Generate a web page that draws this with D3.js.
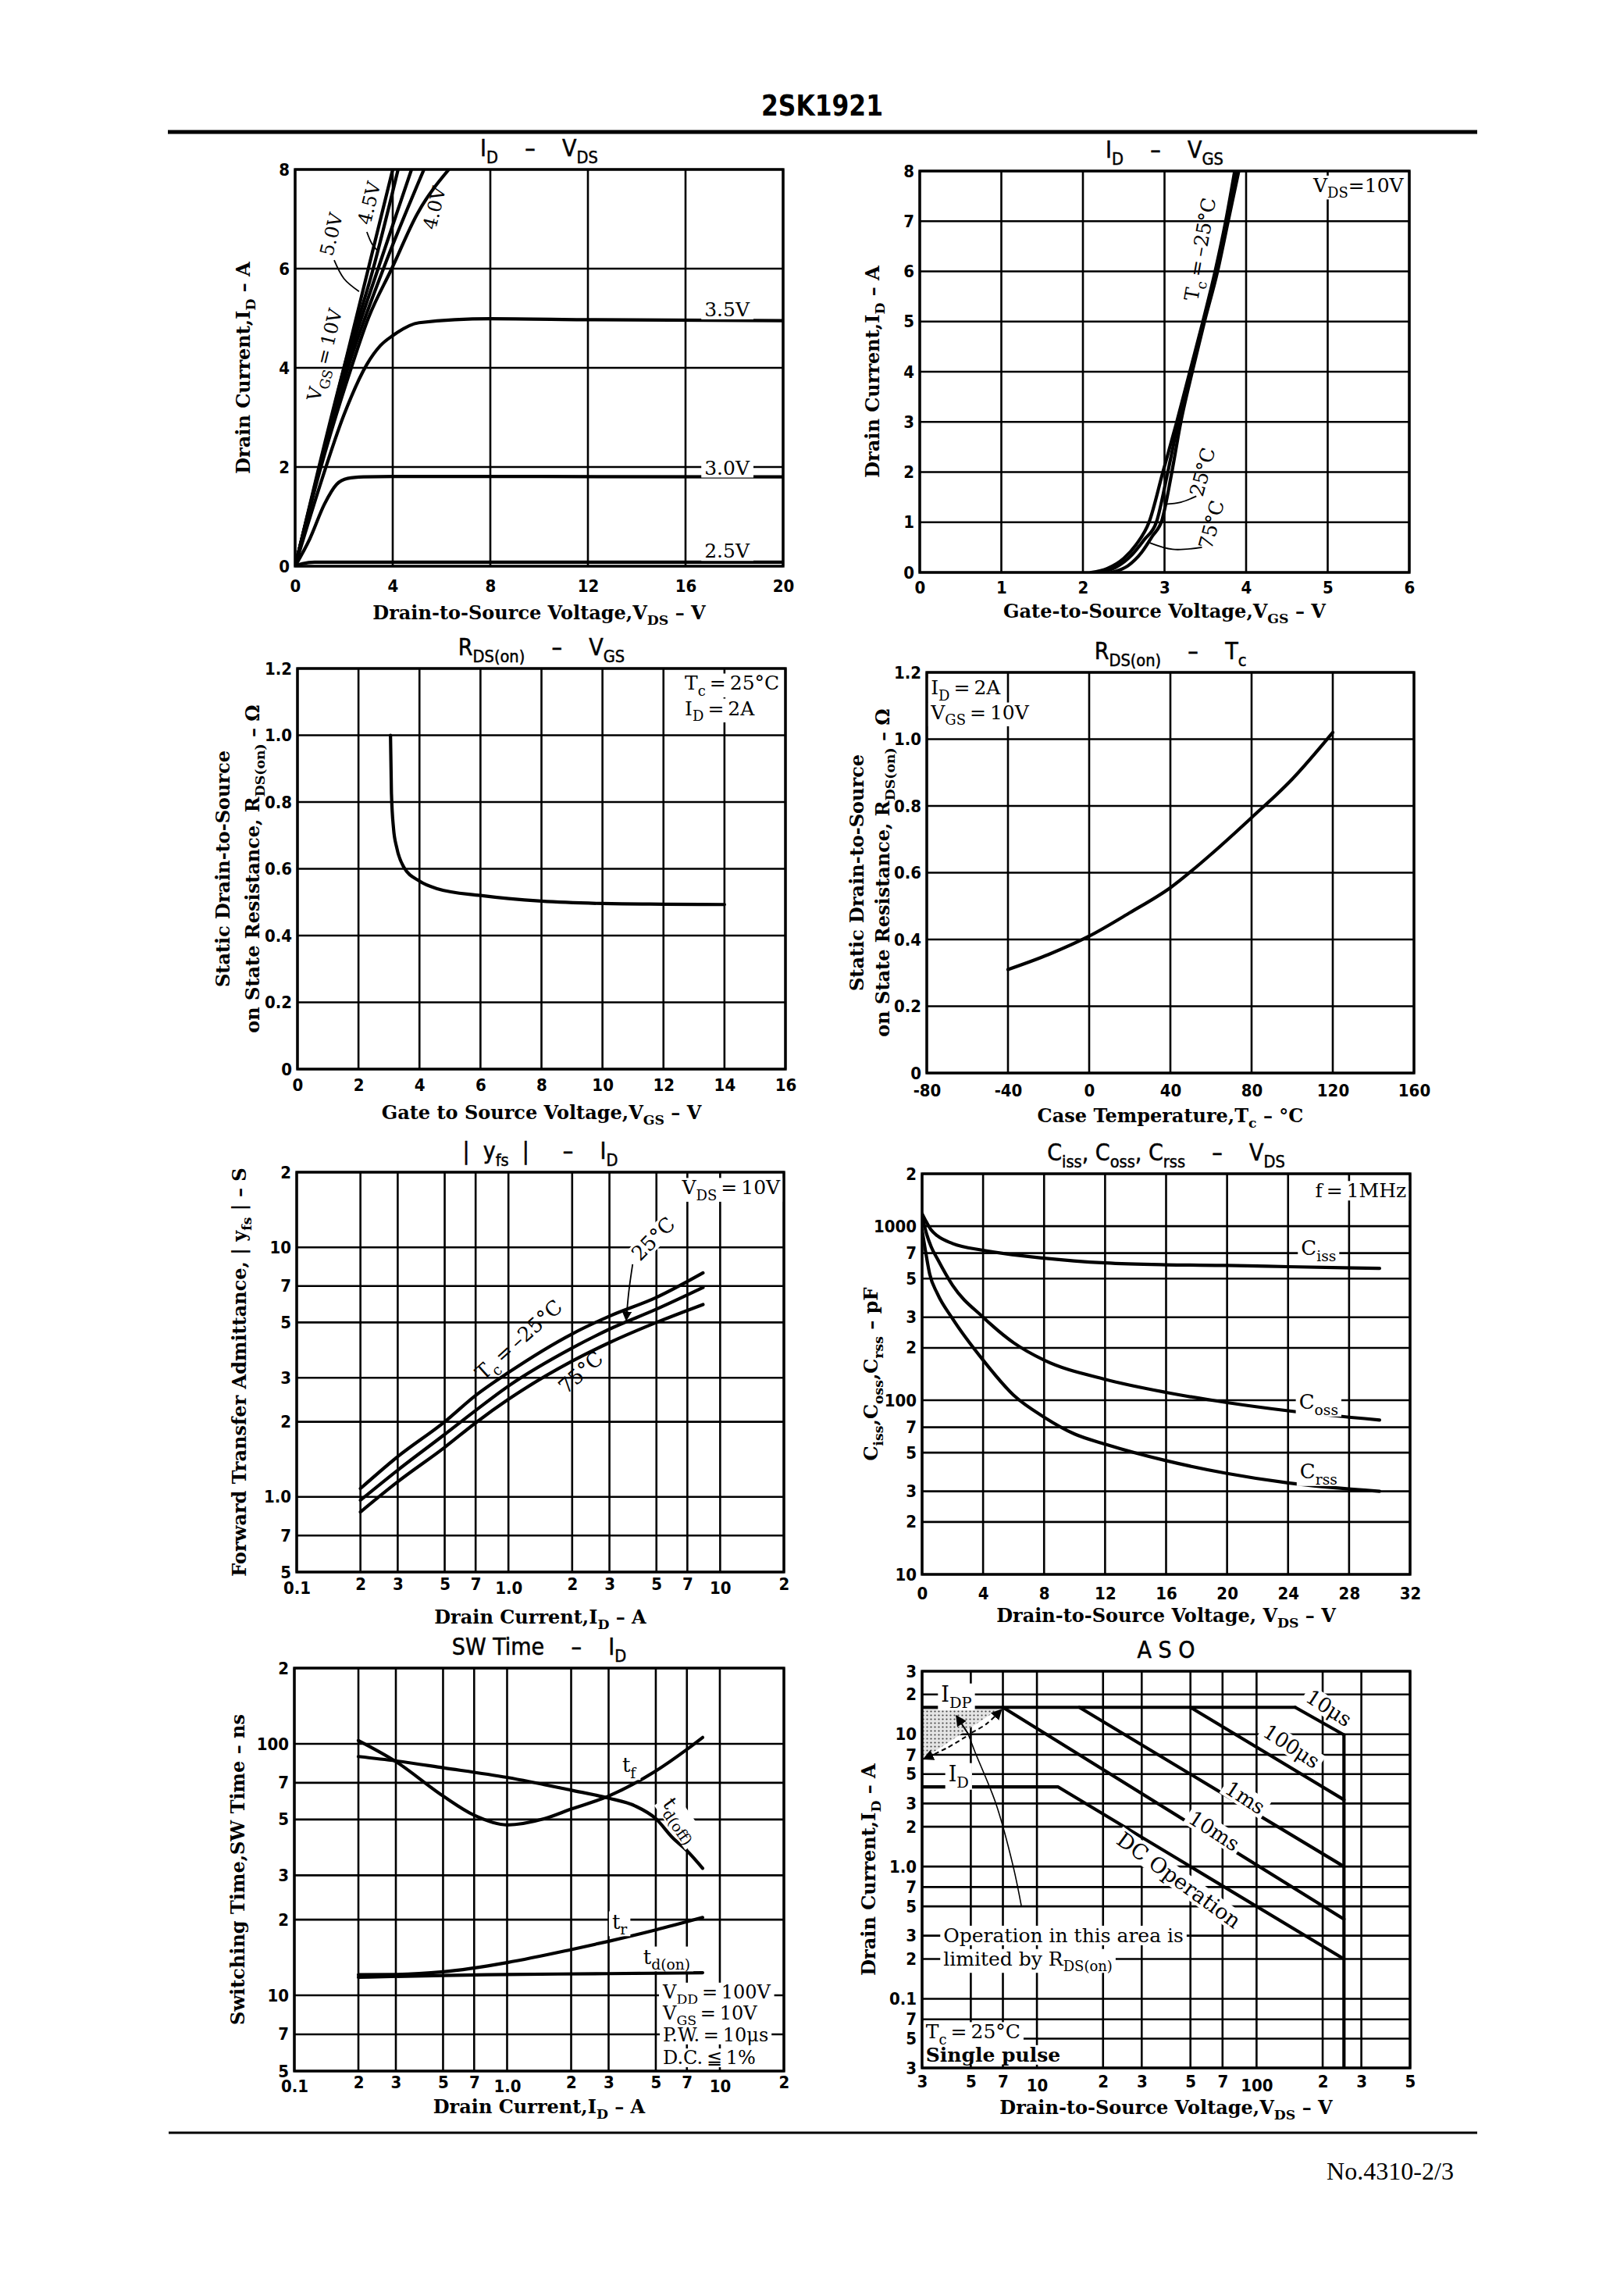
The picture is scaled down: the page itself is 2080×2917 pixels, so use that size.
<!DOCTYPE html>
<html><head><meta charset="utf-8"><title>2SK1921</title>
<script src="https://cdn.jsdelivr.net/npm/d3@7/dist/d3.min.js"></script>
<style>html,body{margin:0;padding:0;background:#fff}svg text{white-space:pre}</style>
</head><body>
<script>
// ================= DATA =================
// Chart 1: ID - VDS  (pairs: [VDS (V), ID (A)])
const idvds_vgs10 = [[0,0],[2,4],[4.0,8]];
const idvds_vgs6  = [[0,0],[1,2.05],[2.0,4],[3.2,6],[4.22,8]];
const idvds_vgs5  = [[0,0],[1,2.0],[2.08,4],[3.4,6],[4.77,8]];
const idvds_vgs45 = [[0,0],[1,1.95],[2.17,4],[3.62,6],[5.28,8]];
const idvds_vgs4  = [[0,0],[1,1.9],[2.3,4],[3,5.0],[3.96,6],[5,7.1],[6.3,8]];
const idvds_vgs35 = [[0,0],[1,1.6],[2,3.05],[2.94,4.07],[3.5,4.45],[4,4.65],[5.08,4.91],[8,4.99],[12,4.97],[20,4.95]];
const idvds_vgs30 = [[0,0],[0.6,0.55],[1.2,1.25],[1.7,1.65],[2.15,1.77],[2.8,1.8],[4,1.81],[20,1.8]];
const idvds_vgs25 = [[0,0],[0.3,0.05],[0.8,0.08],[20,0.08]];
const idvdsXTicks = [0,4,8,12,16,20];
const idvdsYTicks = [0,2,4,6,8];

// Chart 2: ID - VGS  ([VGS (V), ID (A)])
const idvgs_m25 = [[2.1,0],[2.3,0.08],[2.5,0.28],[2.65,0.55],[2.81,1.0],[2.98,2.0],[3.15,3.0],[3.31,4.0],[3.47,5.0],[3.62,6.0],[3.75,7.0],[3.86,8.0]];
const idvgs_p25 = [[2.2,0],[2.4,0.1],[2.6,0.35],[2.75,0.65],[2.9,1.0],[3.04,2.0],[3.17,3.0],[3.32,4.0],[3.48,5.0],[3.63,6.0],[3.76,7.0],[3.88,8.0]];
const idvgs_p75 = [[2.35,0],[2.55,0.13],[2.72,0.4],[2.85,0.72],[2.97,1.05],[3.09,2.0],[3.2,3.0],[3.34,4.0],[3.49,5.0],[3.65,6.0],[3.78,7.0],[3.91,8.0]];
const idvgsXTicks = [0,1,2,3,4,5,6];
const idvgsYTicks = [0,1,2,3,4,5,6,7,8];

// Chart 3: RDS(on) - VGS ([VGS (V), RDS (ohm)])
const rdsVgs = [[3.05,1.0],[3.08,0.83],[3.15,0.72],[3.25,0.665],[3.48,0.606],[4,0.563],[4.6,0.54],[6,0.52],[8,0.503],[10,0.496],[12,0.494],[14,0.493]];
const rdsVgsXTicks = [0,2,4,6,8,10,12,14,16];
const rdsYTicks = [0,0.2,0.4,0.6,0.8,1.0,1.2];
const rdsYLabels = ['0','0.2','0.4','0.6','0.8','1.0','1.2'];

// Chart 4: RDS(on) - Tc ([Tc (degC), RDS (ohm)])
const rdsTc = [[-40,0.31],[-20,0.355],[0,0.41],[20,0.48],[40,0.555],[60,0.655],[80,0.765],[100,0.88],[120,1.02]];
const rdsTcXTicks = [-80,-40,0,40,80,120,160];

// Chart 5: |yfs| - ID ([ID (A), |yfs| (S)])
const yfs_m25 = [[0.2,1.08],[0.3,1.45],[0.5,2.0],[0.7,2.55],[1.0,3.15],[2,4.5],[3,5.3],[5,6.3],[8.3,7.9]];
const yfs_p25 = [[0.2,0.97],[0.3,1.28],[0.5,1.78],[0.7,2.22],[1.0,2.78],[2,3.95],[3,4.7],[5,5.65],[8.3,6.9]];
const yfs_p75 = [[0.2,0.87],[0.3,1.15],[0.5,1.58],[0.7,1.98],[1.0,2.46],[2,3.5],[3,4.15],[5,5.0],[8.3,5.9]];
const logIdTicks  = [0.1,0.2,0.3,0.5,0.7,1,2,3,5,7,10,20];
const logIdLabels = ['0.1','2','3','5','7','1.0','2','3','5','7','10','2'];
const yfsYTicks  = [0.5,0.7,1,2,3,5,7,10,20];
const yfsYLabels = ['5','7','1.0','2','3','5','7','10','2'];

// Chart 6: Ciss, Coss, Crss - VDS ([VDS (V), C (pF)])
const ciss = [[0,1180],[0.3,1050],[0.6,950],[1,880],[2,795],[4,727],[8,655],[12,615],[16,600],[20,595],[24,585],[30,572]];
const coss = [[0,1150],[0.3,900],[0.6,760],[1,650],[2,457],[4,300],[6,214],[8,170],[12,132],[16,111],[20,97],[24,87],[30,77]];
const crss = [[0,950],[0.2,740],[0.5,530],[1,410],[2,294],[4,170],[6,107],[8,80],[10,64],[12,56],[16,45],[20,38],[24,33.5],[30,30]];
const capXTicks = [0,4,8,12,16,20,24,28,32];
const capYTicks  = [10,20,30,50,70,100,200,300,500,700,1000,2000];
const capYLabels = ['10','2','3','5','7','100','2','3','5','7','1000','2'];

// Chart 7: SW Time - ID ([ID (A), t (ns)])
const sw_tf    = [[0.2,103],[0.3,85],[0.5,62],[0.7,52],[1,47.6],[1.5,50.4],[2,55],[3,62],[5,78],[7,95],[8.3,106]];
const sw_tdoff = [[0.2,89],[0.3,85.5],[0.5,80.3],[1,73.5],[2,65.4],[3,60.8],[4,56.6],[5,50.4],[6,42.3],[7,37.6],[8.3,32]];
const sw_tr    = [[0.2,12.07],[0.3,12.1],[0.5,12.4],[1,13.5],[2,15.2],[3,16.4],[5,18.2],[8.3,20.4]];
const sw_tdon  = [[0.2,11.8],[0.5,12.0],[1,12.1],[3,12.2],[8.3,12.3]];
const swYTicks  = [5,7,10,20,30,50,70,100,200];
const swYLabels = ['5','7','10','2','3','5','7','100','2'];

// Chart 8: ASO ([VDS (V), ID (A)])
const aso_idp   = [[3,16],[150,16]];
const aso_10us  = [[150,16],[250,9.9]];
const aso_vdss  = [[250,9.9],[250,0.03]];
const aso_100us = [[50,16],[250,3.2]];
const aso_1ms   = [[15.6,16],[250,1.0]];
const aso_10ms  = [[7,16],[250,0.4]];
const aso_dc    = [[3,4],[12.5,4],[250,0.2]];
const aso_shade = [[3,16],[6.9,16],[3,6.4]];
const asoXTicks  = [3,5,7,10,20,30,50,70,100,200,300,500];
const asoXLabels = ['3','5','7','10','2','3','5','7','100','2','3','5'];
const asoYTicks  = [0.03,0.05,0.07,0.1,0.2,0.3,0.5,0.7,1,2,3,5,7,10,20,30];
const asoYLabels = ['3','5','7','0.1','2','3','5','7','1.0','2','3','5','7','10','2','3'];

// ================= DRAWING =================
const SANSN = "'Liberation Sans Narrow','DejaVu Sans Condensed','Arial Narrow',sans-serif";
const SERIF = "'DejaVu Serif','Liberation Serif',serif";
const TS = '\u2009';

const svg = d3.select('body').append('svg').attr('width',2080).attr('height',2917).style('display','block');
svg.append('rect').attr('width',2080).attr('height',2917).attr('fill','#fff');
const defs = svg.append('defs');
const pat = defs.append('pattern').attr('id','stip').attr('width',5).attr('height',5).attr('patternUnits','userSpaceOnUse');
pat.append('rect').attr('width',5).attr('height',5).attr('fill','#e4e4e4');
pat.append('circle').attr('cx',1.5).attr('cy',1.5).attr('r',1.1).attr('fill','#444');
defs.append('marker').attr('id','arr').attr('viewBox','0 0 10 10').attr('refX',9).attr('refY',5)
  .attr('markerWidth',7).attr('markerHeight',7).attr('orient','auto-start-reverse')
  .append('path').attr('d','M0,0L10,5L0,10z').attr('fill','#000');

function rich(sel, str, size){
  const parts = str.split(/(_\{[^}]*\})/).filter(s=>s.length);
  const sh = size*0.3; let back = 0;
  parts.forEach(p=>{
    if(p.startsWith('_{')){
      sel.append('tspan').attr('dy',sh).attr('font-size',size*0.72).text(p.slice(2,-1));
      back = -sh;
    } else {
      const t = sel.append('tspan').text(p);
      if(back){ t.attr('dy',back); back = 0; }
    }
  });
}

let clipN = 0;
function panel(c){
  const {x:X0,y:Y0,w,h} = c.box;
  const g = svg.append('g').attr('transform',`translate(${X0},${Y0})`);
  const x = (c.xlog?d3.scaleLog():d3.scaleLinear()).domain(c.xd).range([0,w]);
  const y = (c.ylog?d3.scaleLog():d3.scaleLinear()).domain(c.yd).range([h,0]);
  const grid = g.append('g').attr('stroke','#000').attr('stroke-width',2.6);
  grid.selectAll('line.gx').data(c.xt).join('line').attr('class','gx')
    .attr('x1',d=>x(d)).attr('x2',d=>x(d)).attr('y1',0).attr('y2',h);
  grid.selectAll('line.gy').data(c.yt).join('line').attr('class','gy')
    .attr('x1',0).attr('x2',w).attr('y1',d=>y(d)).attr('y2',d=>y(d));
  const id = 'clip'+(clipN++);
  g.append('clipPath').attr('id',id).append('rect').attr('width',w).attr('height',h);
  const plot = g.append('g').attr('clip-path',`url(#${id})`);
  const ann = g.append('g');
  g.append('rect').attr('width',w).attr('height',h).attr('fill','none').attr('stroke','#000').attr('stroke-width',3.4);
  const xl = c.xl || c.xt.map(String);
  const yl = c.yl || c.yt.map(String);
  const ax = g.append('g').attr('transform',`translate(0,${h})`)
    .call(d3.axisBottom(x).tickValues(c.xt).tickFormat(d=>xl[c.xt.indexOf(d)]).tickSize(0).tickPadding(c.xtc-7.6));
  ax.select('.domain').remove();
  ax.selectAll('text').attr('font-family',SANSN).attr('font-weight','bold').attr('font-size',22).attr('fill','#000')
    .attr('dy',d=>(c.xLow && c.xLow.includes(d))?'0.95em':'0.71em');
  const ay = g.append('g')
    .call(d3.axisLeft(y).tickValues(c.yt).tickFormat(d=>yl[c.yt.indexOf(d)]).tickSize(0).tickPadding(7));
  ay.select('.domain').remove();
  ay.selectAll('text').attr('font-family',SANSN).attr('font-weight','bold').attr('font-size',22).attr('fill','#000');
  // title
  const tt = g.append('text').attr('x',w/2).attr('y',-17).attr('text-anchor','middle')
    .attr('font-family',SANSN).attr('font-size',30).attr('fill','#000')
    .attr('stroke','#000').attr('stroke-width',0.5);
  rich(tt, c.title, 30);
  // x label
  const xt = g.append('text').attr('x',w/2).attr('y',h+c.xlabDy+9).attr('text-anchor','middle')
    .attr('font-family',SERIF).attr('font-weight','bold').attr('font-size',24).attr('fill','#000');
  rich(xt, c.xlab, 24);
  // y label(s)
  c.ylab.forEach(([dx,str])=>{
    const t = g.append('text').attr('transform',`translate(${dx},${h/2}) rotate(-90)`)
      .attr('text-anchor','middle').attr('y',9)
      .attr('font-family',SERIF).attr('font-weight','bold').attr('font-size',24).attr('fill','#000');
    rich(t, str, 24);
  });
  return {g, plot, ann, x, y, w, h};
}

function curve(P, data, opts={}){
  P.plot.append('path').datum(data)
    .attr('d', d3.line().x(d=>P.x(d[0])).y(d=>P.y(d[1])).curve(opts.curve||d3.curveMonotoneX))
    .attr('fill','none').attr('stroke','#000').attr('stroke-width',opts.sw||4.2)
    .attr('stroke-linejoin','round').attr('stroke-linecap','round');
}
function leader(P, data, opts={}){
  const p = P.ann.append('path').datum(data)
    .attr('d', d3.line().x(d=>P.x(d[0])).y(d=>P.y(d[1])).curve(d3.curveCatmullRom))
    .attr('fill','none').attr('stroke','#000').attr('stroke-width',opts.sw||1.8);
  if(opts.arrow) p.attr('marker-end','url(#arr)');
  if(opts.dash) p.attr('stroke-dasharray',opts.dash);
}
function label(P, xv, yv, str, o={}){
  const size = o.size||25;
  const gg = P.ann.append('g').attr('transform',`translate(${P.x(xv)},${P.y(yv)}) rotate(${o.rot||0})`);
  const t = gg.append('text').attr('y',size*0.33).attr('text-anchor',o.anchor||'middle')
    .attr('font-family',SERIF).attr('font-size',size).attr('fill','#000')
    .attr('font-weight',o.bold?'bold':'normal');
  rich(t, str, size);
  if(o.bg){
    const b = t.node().getBBox();
    gg.insert('rect','text').attr('x',b.x-4).attr('y',b.y+2).attr('width',b.width+8).attr('height',b.height-4).attr('fill','#fff');
  }
  return gg;
}

// ---------- header / footer ----------
svg.append('text').attr('x',1053).attr('y',148).attr('text-anchor','middle')
  .attr('font-family',SANSN).attr('font-weight','bold').attr('font-size',38).attr('textLength',156).attr('lengthAdjust','spacingAndGlyphs')
  .attr('fill','#000').text('2SK1921');
svg.append('line').attr('x1',215).attr('x2',1892).attr('y1',169).attr('y2',169).attr('stroke','#000').attr('stroke-width',5);
svg.append('line').attr('x1',216).attr('x2',1892).attr('y1',2731).attr('y2',2731).attr('stroke','#000').attr('stroke-width',3);
svg.append('text').attr('x',1862).attr('y',2791).attr('text-anchor','end')
  .attr('font-family',"'Liberation Serif',serif").attr('font-size',31).attr('textLength',163).attr('lengthAdjust','spacingAndGlyphs')
  .attr('fill','#000').text('No.4310-2/3');

// ---------- Chart 1 ----------
const P1 = panel({box:{x:378,y:217,w:625,h:508}, xd:[0,20], xt:idvdsXTicks, yd:[0,8], yt:idvdsYTicks, xtc:25,
  title:'I_{D}    –    V_{DS}', xlab:'Drain-to-Source Voltage,V_{DS} – V', xlabDy:59,
  ylab:[[-67,'Drain Current,I_{D} – A']]});
[idvds_vgs10, idvds_vgs6, idvds_vgs5, idvds_vgs45, idvds_vgs4, idvds_vgs35, idvds_vgs30, idvds_vgs25].forEach(s=>curve(P1,s));
label(P1,1.22,4.26,'V_{GS}'+TS+'='+TS+'10V',{rot:-76,size:24});
label(P1,1.5,6.69,'5.0V',{rot:-76,size:24});
label(P1,3.05,7.32,'4.5V',{rot:-76,size:24});
label(P1,5.72,7.22,'4.0V',{rot:-76,size:24});
leader(P1,[[1.6,6.17],[2.0,5.8],[2.62,5.54]]);
leader(P1,[[2.94,6.74],[3.15,6.5],[3.4,6.35]]);
label(P1,17.7,5.17,'3.5V',{bg:true});
label(P1,17.7,1.98,'3.0V',{bg:true});
label(P1,17.7,0.3,'2.5V',{bg:true});

// ---------- Chart 2 ----------
const P2 = panel({box:{x:1178,y:219,w:627,h:514}, xd:[0,6], xt:idvgsXTicks, yd:[0,8], yt:idvgsYTicks, xtc:19,
  title:'I_{D}    –    V_{GS}', xlab:'Gate-to-Source Voltage,V_{GS} – V', xlabDy:49,
  ylab:[[-61,'Drain Current,I_{D} – A']]});
[idvgs_m25, idvgs_p25, idvgs_p75].forEach(s=>curve(P2,s));
label(P2,3.44,6.44,'T_{c}'+TS+'='+TS+'–25°C',{rot:-80});
label(P2,3.47,2.0,'25°C',{rot:-75});
label(P2,3.58,0.95,'75°C',{rot:-75});
leader(P2,[[3.39,1.52],[3.2,1.4],[3.01,1.36]]);
leader(P2,[[3.46,0.5],[3.1,0.46],[2.82,0.59]]);
label(P2,5.93,7.71,'V_{DS}=10V',{anchor:'end',bg:true});

// ---------- Chart 3 ----------
const P3 = panel({box:{x:381,y:856,w:625,h:513}, xd:[0,16], xt:rdsVgsXTicks, yd:[0,1.2], yt:rdsYTicks, yl:rdsYLabels, xtc:20,
  title:'R_{DS(on)}    –    V_{GS}', xlab:'Gate to Source Voltage,V_{GS} – V', xlabDy:55,
  ylab:[[-96,'Static Drain-to-Source'],[-58,'on State Resistance, R_{DS(on)} – Ω']]});
curve(P3, rdsVgs);
label(P3,12.7,1.155,'T_{c}'+TS+'='+TS+'25°C',{anchor:'start',bg:true});
label(P3,12.7,1.08,'I_{D}'+TS+'='+TS+'2A',{anchor:'start',bg:true});

// ---------- Chart 4 ----------
const P4 = panel({box:{x:1187,y:861,w:624,h:513}, xd:[-80,160], xt:rdsTcXTicks, yd:[0,1.2], yt:rdsYTicks, yl:rdsYLabels, xtc:22,
  title:'R_{DS(on)}    –    T_{c}', xlab:'Case Temperature,T_{c} – °C', xlabDy:54,
  ylab:[[-90,'Static Drain-to-Source'],[-57,'on State Resistance, R_{DS(on)} – Ω']]});
curve(P4, rdsTc);
label(P4,-78,1.153,'I_{D}'+TS+'='+TS+'2A',{anchor:'start',bg:true});
label(P4,-78,1.08,'V_{GS}'+TS+'='+TS+'10V',{anchor:'start',bg:true});

// ---------- Chart 5 ----------
const P5 = panel({box:{x:380,y:1501,w:624,h:512}, xlog:true, xd:[0.1,20], xt:logIdTicks, xl:logIdLabels, xLow:[0.1,1,10], xtc:15,
  ylog:true, yd:[0.5,20], yt:yfsYTicks, yl:yfsYLabels,
  title:'|  y_{fs}  |     –    I_{D}', xlab:'Drain Current,I_{D} – A', xlabDy:57,
  ylab:[[-74,'Forward Transfer Admittance, | y_{fs} | – S']]});
[yfs_m25, yfs_p25, yfs_p75].forEach(s=>curve(P5,s));
label(P5,1.12,4.25,'T_{c}'+TS+'='+TS+'–25°C',{rot:-42,size:26});
label(P5,4.84,10.8,'25°C',{rot:-45,bg:true,size:26});
label(P5,2.2,3.15,'75°C',{rot:-42,size:26});
leader(P5,[[3.86,8.55],[3.7,6.6],[3.6,5.1]],{arrow:true});
label(P5,19.2,17.3,'V_{DS}'+TS+'='+TS+'10V',{anchor:'end',bg:true});

// ---------- Chart 6 ----------
const P6 = panel({box:{x:1181,y:1503,w:625,h:513}, xd:[0,32], xt:capXTicks, xtc:24,
  ylog:true, yd:[10,2000], yt:capYTicks, yl:capYLabels,
  title:'C_{iss}, C_{oss}, C_{rss}    –    V_{DS}', xlab:'Drain-to-Source Voltage, V_{DS} – V', xlabDy:52,
  ylab:[[-66,'C_{iss},C_{oss},C_{rss} – pF']]});
[ciss, coss, crss].forEach(s=>curve(P6,s));
label(P6,26,743,'C_{iss}',{bg:true,size:26});
label(P6,26,97.5,'C_{oss}',{bg:true,size:26});
label(P6,26,38.9,'C_{rss}',{bg:true,size:26});
label(P6,31.75,1593,'f'+TS+'='+TS+'1MHz',{anchor:'end',bg:true});

// ---------- Chart 7 ----------
const P7 = panel({box:{x:377,y:2136,w:627,h:516}, xlog:true, xd:[0.1,20], xt:logIdTicks, xl:logIdLabels, xLow:[0.1,1,10], xtc:14,
  ylog:true, yd:[5,200], yt:swYTicks, yl:swYLabels,
  title:'SW Time    –    I_{D}', xlab:'Drain Current,I_{D} – A', xlabDy:45,
  ylab:[[-73,'Switching Time,SW Time – ns']]});
[sw_tf, sw_tdoff, sw_tr, sw_tdon].forEach(s=>curve(P7,s));
label(P7,3.74,81.9,'t_{f}',{bg:true,size:26});
label(P7,6.6,50,'t_{d(off)}',{rot:55,bg:true,size:26});
label(P7,3.38,19.6,'t_{r}',{bg:true,size:26});
label(P7,5.63,14.2,'t_{d(on)}',{bg:true,size:26});
label(P7,5.4,10.3,'V_{DD}'+TS+'='+TS+'100V',{anchor:'start',bg:true,size:24});
label(P7,5.4,8.5,'V_{GS}'+TS+'='+TS+'10V',{anchor:'start',bg:true,size:24});
label(P7,5.4,6.95,'P.W.'+TS+'='+TS+'10μs',{anchor:'start',bg:true,size:24});
label(P7,5.4,5.64,'D.C.'+TS+'≦'+TS+'1%',{anchor:'start',bg:true,size:24});

// ---------- Chart 8 ----------
const P8 = panel({box:{x:1181,y:2140,w:625,h:508}, xlog:true, xd:[3,500], xt:asoXTicks, xl:asoXLabels, xLow:[10,100], xtc:17,
  ylog:true, yd:[0.03,30], yt:asoYTicks, yl:asoYLabels,
  title:'A S O', xlab:'Drain-to-Source Voltage,V_{DS} – V', xlabDy:50,
  ylab:[[-69,'Drain Current,I_{D} – A']]});
P8.plot.insert('path',':first-child').datum(aso_shade)
  .attr('d', d3.line().x(d=>P8.x(d[0])).y(d=>P8.y(d[1])))
  .attr('fill','url(#stip)').attr('stroke','none');
[aso_idp, aso_10us, aso_vdss, aso_100us, aso_1ms, aso_10ms, aso_dc].forEach(s=>curve(P8,s,{curve:d3.curveLinear}));
leader(P8,[[8.5,0.5],[7.8,1.0],[6.5,3],[5.2,7.5],[4.86,10.1]],{sw:1.6});
leader(P8,[[4.86,10.1],[4.3,13.8]],{arrow:true,sw:2});
leader(P8,[[5.05,10.3],[5.9,12.0],[6.9,15.4]],{arrow:true,sw:2,dash:'6,4'});
leader(P8,[[4.75,9.6],[3.9,7.9],[3.05,6.5]],{arrow:true,sw:2,dash:'6,4'});
label(P8,4.3,20,'I_{DP}',{bg:true,size:27});
label(P8,4.4,5,'I_{D}',{bg:true,size:27});
label(P8,213,15.7,'10μs',{rot:33,bg:true,size:26});
label(P8,144,8.07,'100μs',{rot:33,bg:true,size:26});
label(P8,88.6,3.3,'1ms',{rot:33,bg:true,size:26});
label(P8,64,1.85,'10ms',{rot:33,bg:true,size:26});
label(P8,44.2,0.785,'DC Operation',{rot:36,bg:true,size:27});
label(P8,3.75,0.3,'Operation in this area is',{anchor:'start',bg:true,size:25});
label(P8,3.75,0.2,'limited by R_{DS(on)}',{anchor:'start',bg:true,size:25});
label(P8,3.12,0.056,'T_{c}'+TS+'='+TS+'25°C',{anchor:'start',bg:true});
label(P8,3.12,0.0375,'Single pulse',{anchor:'start',bg:true,bold:true});
</script>
</body></html>
